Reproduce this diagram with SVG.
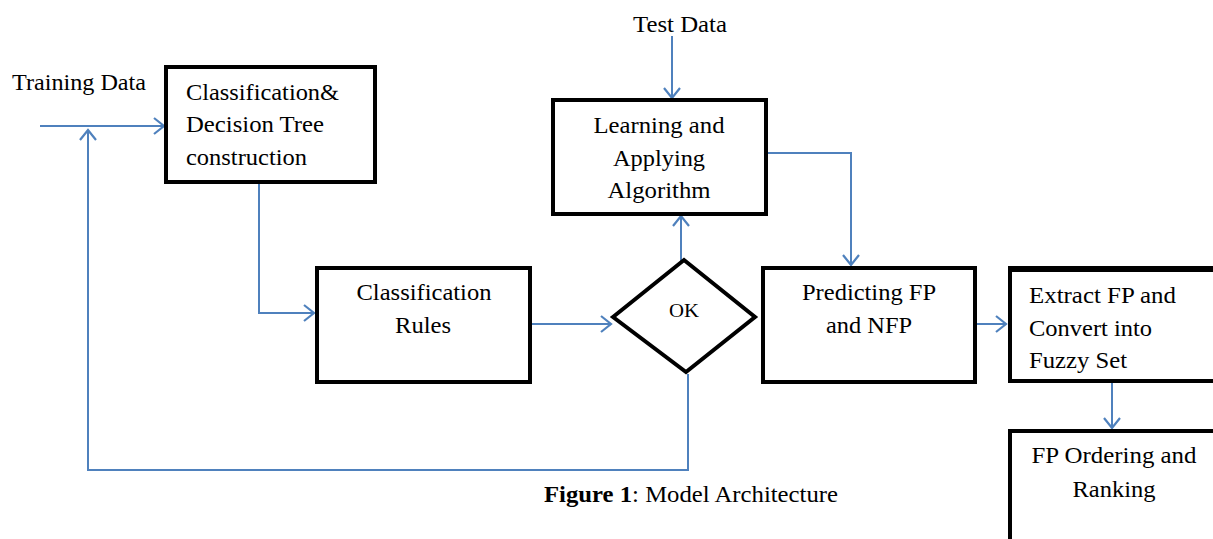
<svg xmlns="http://www.w3.org/2000/svg" width="1213" height="539" viewBox="0 0 1213 539">
<style>
.box{fill:#fff;stroke:#000;stroke-width:4}
.t{font-family:"Liberation Serif","Times New Roman",serif;font-size:24px;fill:#000}
.c{text-anchor:middle}
.ln{fill:none;stroke:#4F81BD;stroke-width:2}
</style>
<defs>
<marker id="ah" markerUnits="userSpaceOnUse" markerWidth="14" markerHeight="20" refX="12" refY="10" orient="auto">
<path d="M2,2 L12,10 L2,18" fill="none" stroke="#4F81BD" stroke-width="2.2"/>
</marker>
</defs>
<rect width="1213" height="539" fill="#fff"/>
<g id="connectors">
<line class="ln" x1="40" y1="126" x2="164" y2="126" marker-end="url(#ah)"/>
<polyline class="ln" points="688,374 688,470 88,470 88,130" marker-end="url(#ah)"/>
<polyline class="ln" points="259,182 259,313 314,313" marker-end="url(#ah)"/>
<line class="ln" x1="530" y1="324" x2="611" y2="324" marker-end="url(#ah)"/>
<line class="ln" x1="681" y1="262" x2="681" y2="216" marker-end="url(#ah)"/>
<line class="ln" x1="672" y1="36" x2="672" y2="98" marker-end="url(#ah)"/>
<polyline class="ln" points="766,153 851,153 851,265" marker-end="url(#ah)"/>
<line class="ln" x1="975" y1="324" x2="1006" y2="324" marker-end="url(#ah)"/>
<line class="ln" x1="1112" y1="382" x2="1112" y2="428" marker-end="url(#ah)"/>
</g>
<g id="training-label"><text class="t" x="12" y="90" textLength="134" lengthAdjust="spacingAndGlyphs">Training Data</text></g>
<g id="test-label"><text class="t c" x="680" y="32" textLength="94" lengthAdjust="spacingAndGlyphs">Test Data</text></g>
<g id="n-classification-tree">
<rect class="box" x="166" y="67" width="209" height="115"/>
<text class="t" x="186" y="100" textLength="153" lengthAdjust="spacingAndGlyphs">Classification&amp;</text>
<text class="t" x="186" y="132" textLength="138" lengthAdjust="spacingAndGlyphs">Decision Tree</text>
<text class="t" x="186" y="165" textLength="121" lengthAdjust="spacingAndGlyphs">construction</text>
</g>
<g id="n-rules">
<rect class="box" x="317" y="268" width="213" height="114"/>
<text class="t c" x="424" y="300" textLength="135" lengthAdjust="spacingAndGlyphs">Classification</text>
<text class="t c" x="423" y="333" textLength="56" lengthAdjust="spacingAndGlyphs">Rules</text>
</g>
<g id="n-ok">
<polygon points="613,317 684,260 755,317 686,372" fill="#fff" stroke="#000" stroke-width="4" stroke-linejoin="miter"/>
<text class="t c" x="684" y="317" style="font-size:19px" textLength="30" lengthAdjust="spacingAndGlyphs">OK</text>
</g>
<g id="n-learning">
<rect class="box" x="553" y="100" width="213" height="114"/>
<text class="t c" x="659" y="133" textLength="131" lengthAdjust="spacingAndGlyphs">Learning and</text>
<text class="t c" x="659" y="166" textLength="92" lengthAdjust="spacingAndGlyphs">Applying</text>
<text class="t c" x="659" y="198" textLength="103" lengthAdjust="spacingAndGlyphs">Algorithm</text>
</g>
<g id="n-predicting">
<rect class="box" x="763" y="268" width="212" height="114"/>
<text class="t c" x="869" y="300" textLength="134" lengthAdjust="spacingAndGlyphs">Predicting FP</text>
<text class="t c" x="869" y="333" textLength="86" lengthAdjust="spacingAndGlyphs">and NFP</text>
</g>
<g id="n-extract">
<rect class="box" x="1010" y="270" width="220" height="111"/>
<line x1="1008" y1="269" x2="1213" y2="269" stroke="#000" stroke-width="6"/>
<text class="t" x="1029" y="303" textLength="147" lengthAdjust="spacingAndGlyphs">Extract FP and</text>
<text class="t" x="1029" y="336" textLength="123" lengthAdjust="spacingAndGlyphs">Convert into</text>
<text class="t" x="1029" y="368" textLength="98" lengthAdjust="spacingAndGlyphs">Fuzzy Set</text>
</g>
<g id="n-ordering">
<rect class="box" x="1010" y="431" width="220" height="130"/>
<text class="t c" x="1114" y="463" textLength="165" lengthAdjust="spacingAndGlyphs">FP Ordering and</text>
<text class="t c" x="1114" y="497" textLength="83" lengthAdjust="spacingAndGlyphs">Ranking</text>
</g>
<g id="caption">
<text class="t" x="544" y="502" style="font-size:23px" textLength="294" lengthAdjust="spacingAndGlyphs"><tspan font-weight="bold">Figure 1</tspan>: Model Architecture</text>
</g>
</svg>
